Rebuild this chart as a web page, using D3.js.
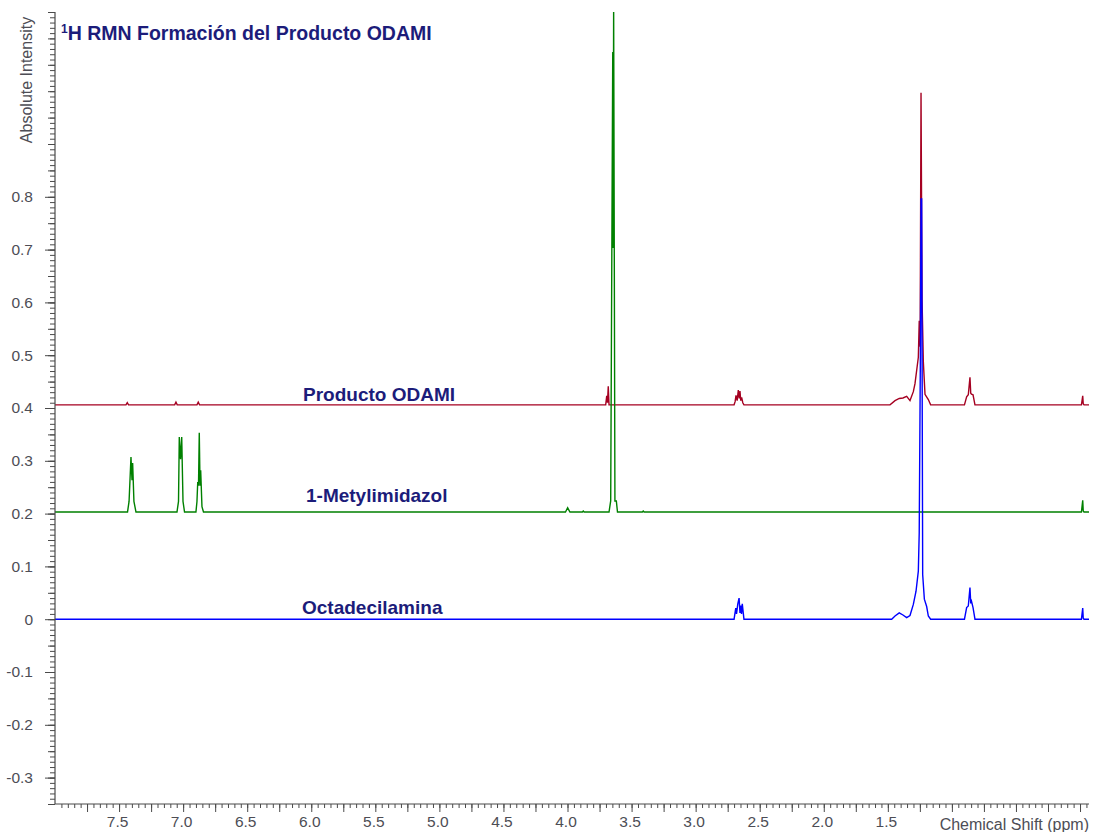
<!DOCTYPE html>
<html>
<head>
<meta charset="utf-8">
<script src="https://cdn.jsdelivr.net/npm/d3@7"></script>
<style>
  body { margin: 0; background: #fff; }
  svg { display: block; font-family: "Liberation Sans", Arial, sans-serif; }
</style>
</head>
<body>
<svg id="chart" width="1093" height="832"></svg>
<script>
// spectra: [ppm, intensity above own baseline]
const seriesNames = ["Producto ODAMI", "1-Metylimidazol", "Octadecilamina"];
const seriesColors = ["#a50021", "#008000", "#0000ff"];
const seriesOffsets = [0.406, 0.203, 0];

const odamiPoints = [
  [7.446, 0], [7.436, 0.004], [7.426, 0],
  [7.066, 0], [7.056, 0.005], [7.046, 0],
  [6.892, 0], [6.882, 0.005], [6.872, 0],
  [3.702, 0], [3.694, 0.017], [3.688, 0.004], [3.682, 0.035], [3.676, 0],
  [2.700, 0], [2.692, 0.006], [2.685, 0.018], [2.676, 0.008], [2.667, 0.028], [2.660, 0.012],
  [2.654, 0.026], [2.648, 0.008], [2.641, 0.014], [2.632, 0.004], [2.623, 0],
  [1.483, 0], [1.444, 0.008], [1.411, 0.012], [1.382, 0.013], [1.353, 0.016], [1.327, 0.008],
  [1.301, 0.025], [1.288, 0.040], [1.262, 0.090], [1.255, 0.159], [1.248, 0.110],
  [1.241, 0.591], [1.233, 0.200], [1.223, 0.082], [1.210, 0.020], [1.184, 0.010], [1.166, 0],
  [0.902, 0], [0.885, 0.015], [0.872, 0.019], [0.859, 0.052], [0.853, 0.022], [0.847, 0.020],
  [0.835, 0.019], [0.820, 0],
  [-0.011, 0], [-0.021, 0.017], [-0.025, 0.002], [-0.031, 0]
];

const metylPoints = [
  [7.434, 0], [7.422, 0.020], [7.407, 0.104], [7.399, 0.060], [7.394, 0.093], [7.384, 0.020], [7.368, 0],
  [7.048, 0], [7.036, 0.020], [7.030, 0.142], [7.020, 0.100], [7.011, 0.142], [7.001, 0.020], [6.989, 0],
  [6.900, 0], [6.892, 0.020], [6.886, 0.057], [6.880, 0.050], [6.874, 0.150], [6.868, 0.050],
  [6.863, 0.079], [6.853, 0.010], [6.841, 0],
  [4.016, 0], [3.999, 0.008], [3.981, 0],
  [3.884, 0], [3.877, 0.002], [3.870, 0],
  [3.676, 0], [3.663, 0.021], [3.647, 0.871], [3.644, 0.500], [3.640, 0.960], [3.630, 0.021],
  [3.619, 0.021], [3.610, 0],
  [3.416, 0], [3.409, 0.002], [3.402, 0],
  [-0.011, 0], [-0.021, 0.022], [-0.025, 0.002], [-0.031, 0]
];

const octaPoints = [
  [2.700, 0], [2.687, 0.021], [2.681, 0.010], [2.671, 0.029], [2.661, 0.040], [2.654, 0.012],
  [2.648, 0.026], [2.642, 0.010], [2.636, 0.029], [2.623, 0],
  [1.470, 0], [1.444, 0.006], [1.411, 0.012], [1.382, 0.008], [1.353, 0.003], [1.327, 0.007],
  [1.301, 0.028], [1.280, 0.053], [1.262, 0.091], [1.255, 0.164], [1.246, 0.500],
  [1.241, 0.796], [1.236, 0.796], [1.228, 0.084], [1.215, 0.038], [1.197, 0.024], [1.184, 0.006], [1.166, 0],
  [0.902, 0], [0.885, 0.022], [0.872, 0.025], [0.859, 0.060], [0.853, 0.030], [0.847, 0.034],
  [0.835, 0.022], [0.820, 0],
  [-0.011, 0], [-0.021, 0.021], [-0.025, 0.002], [-0.031, 0]
];

const seriesPoints = [odamiPoints, metylPoints, octaPoints];

const xTickLabels = [7.5, 7.0, 6.5, 6.0, 5.5, 5.0, 4.5, 4.0, 3.5, 3.0, 2.5, 2.0, 1.5];
const yTickLabels = [-0.3, -0.2, -0.1, 0, 0.1, 0.2, 0.3, 0.4, 0.5, 0.6, 0.7, 0.8];
const seriesLabelPos = [[303, 401], [306, 502], [302, 614]];

const svg = d3.select("#chart");
const x = d3.scaleLinear().domain([8.0, -0.07]).range([55, 1089]);
const y = d3.scaleLinear().domain([-0.35, 1.15]).range([804, 12]);

const axisColor = "#4a4a4a";
const textColor = "#4d4d55";
const navy = "#1c1c7a";

// plain hyphen for negatives, like the original software
const yFmt = d => d === 0 ? "0" : (d < 0 ? "-" : "") + Math.abs(d).toFixed(1);

svg.append("clipPath").attr("id", "plot-clip")
  .append("rect").attr("x", 55).attr("y", 12).attr("width", 1034).attr("height", 792);

// spectra lines
const line = d3.line().x(d => x(d[0])).y(d => y(d[1]));
const traces = svg.append("g").attr("clip-path", "url(#plot-clip)");
seriesPoints.forEach((pts, i) => {
  const full = [[8.0, 0], ...pts, [-0.07, 0]].map(d => [d[0], d[1] + seriesOffsets[i]]);
  traces.append("path")
    .datum(full)
    .attr("fill", "none")
    .attr("stroke", seriesColors[i])
    .attr("stroke-width", 1.4)
    .attr("stroke-linejoin", "miter")
    .attr("d", line);
});

// y axis: minor / medium / major ticks
const yMinor = d3.range(-35, 116).map(i => i / 100);
const yMid = d3.range(-7, 24).map(i => i * 0.05);
svg.append("g").attr("transform", "translate(55,0)")
  .call(d3.axisLeft(y).tickValues(yMinor).tickSize(5).tickFormat(""))
  .call(g => g.select(".domain").remove());
svg.append("g").attr("transform", "translate(55,0)")
  .call(d3.axisLeft(y).tickValues(yMid).tickSize(7).tickFormat(""))
  .call(g => g.select(".domain").remove());
svg.append("g").attr("class", "y-axis").attr("transform", "translate(55,0)")
  .call(d3.axisLeft(y).tickValues(yTickLabels).tickSize(10).tickPadding(12).tickFormat(yFmt))
  .call(g => g.select(".domain").remove())
  .call(g => g.selectAll("text").attr("font-size", 15.5).attr("fill", textColor)
    .attr("font-family", "Liberation Sans, Arial, sans-serif"));
svg.selectAll("g line").attr("stroke", axisColor);

svg.append("line").attr("x1", 55).attr("x2", 55).attr("y1", 12).attr("y2", 804)
  .attr("stroke", axisColor).attr("stroke-width", 1.2);

// x axis
const xMinor = d3.range(-1, 160).map(i => i * 0.05).filter(v => v <= 8.0);
const xMajor = d3.range(0, 32).map(i => i * 0.25);
svg.append("g").attr("transform", "translate(0,804)")
  .call(d3.axisBottom(x).tickValues(xMinor).tickSize(4).tickFormat(""))
  .call(g => g.select(".domain").remove());
svg.append("g").attr("transform", "translate(0,804)")
  .call(d3.axisBottom(x).tickValues(xMajor).tickSize(8).tickFormat(""))
  .call(g => g.select(".domain").remove());
svg.append("g").attr("transform", "translate(0,804)")
  .call(d3.axisBottom(x).tickValues(xTickLabels).tickSize(0).tickPadding(12)
    .tickFormat(d3.format(".1f")))
  .call(g => g.select(".domain").remove())
  .call(g => g.selectAll("text").attr("font-size", 15.5).attr("fill", textColor)
    .attr("dx", -2)
    .attr("font-family", "Liberation Sans, Arial, sans-serif"));
svg.selectAll("g line").attr("stroke", axisColor);

svg.append("line").attr("x1", 55).attr("x2", 1089).attr("y1", 804).attr("y2", 804)
  .attr("stroke", axisColor).attr("stroke-width", 1.2);

// axis titles
svg.append("text")
  .attr("transform", "translate(32,80) rotate(-90)")
  .attr("text-anchor", "middle")
  .attr("font-size", 16)
  .attr("fill", textColor)
  .text("Absolute Intensity");

svg.append("text")
  .attr("x", 1089).attr("y", 830)
  .attr("text-anchor", "end")
  .attr("font-size", 16)
  .attr("fill", textColor)
  .text("Chemical Shift (ppm)");

// title
const title = svg.append("text")
  .attr("x", 61).attr("y", 40)
  .attr("font-size", 19.5)
  .attr("font-weight", "bold")
  .attr("fill", navy);
title.append("tspan").attr("font-size", 12).attr("dy", -7).text("1");
title.append("tspan").attr("dy", 7).text("H RMN Formación del Producto ODAMI");

// series labels
seriesNames.forEach((name, i) => {
  svg.append("text")
    .attr("x", seriesLabelPos[i][0]).attr("y", seriesLabelPos[i][1])
    .attr("font-size", 19)
    .attr("font-weight", "bold")
    .attr("fill", navy)
    .text(name);
});
</script>
</body>
</html>
